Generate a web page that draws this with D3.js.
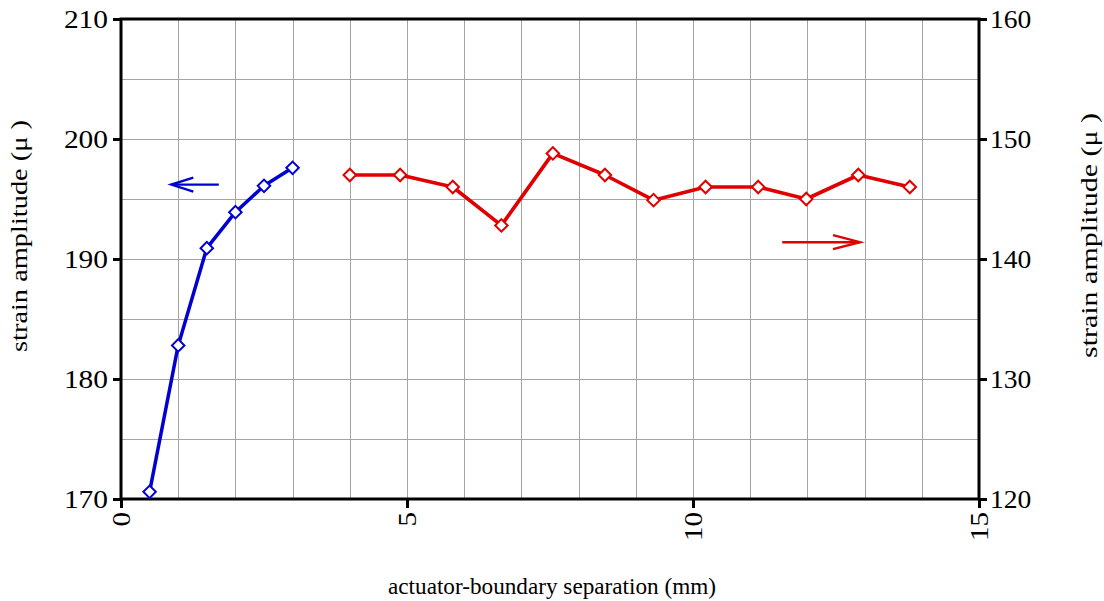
<!DOCTYPE html>
<html>
<head>
<meta charset="utf-8">
<script src="https://cdn.jsdelivr.net/npm/d3@7"></script>
<style>
  body { margin: 0; background: #fff; }
</style>
</head>
<body>
<svg id="chart" width="1104" height="601"></svg>
<script>
// Near-boundary run (left axis) and far run (right axis)
const nearSep = [0.5, 1.0, 1.5, 2.0, 2.5, 3.0];
const nearStrain = [170.6, 182.8, 190.9, 193.9, 196.1, 197.6];
const farSep = [4.0, 4.88, 5.8, 6.65, 7.55, 8.46, 9.31, 10.22, 11.14, 11.98, 12.89, 13.79];
const farStrain = [147, 147, 146, 142.8, 148.8, 147, 144.9, 146, 146, 145, 147, 146];

const xTicks = [0, 5, 10, 15];
const leftTicks = [170, 180, 190, 200, 210];
const rightTicks = [120, 130, 140, 150, 160];
const xGrid = d3.range(1, 15);
const yGrid = [175, 180, 185, 190, 195, 200, 205];

// Arrows that point each series to its axis
const leftArrow = { from: 1.71, to: 0.88, value: 196.2 };
const rightArrow = { from: 11.56, to: 12.92, value: 141.4 };

const FONT = '"Liberation Serif", "Times New Roman", serif';

const svg = d3.select("#chart");
const m = { left: 121, right: 979, top: 19, bottom: 499 };

const x = d3.scaleLinear().domain([0, 15]).range([m.left, m.right]);
const yL = d3.scaleLinear().domain([170, 210]).range([m.bottom, m.top]);
const yR = d3.scaleLinear().domain([120, 160]).range([m.bottom, m.top]);

// grid
const grid = svg.append("g").attr("stroke", "#a4a4a4").attr("stroke-width", 1);
grid.selectAll(".vg").data(xGrid).join("line")
  .attr("x1", d => Math.round(x(d)) + 0.5).attr("x2", d => Math.round(x(d)) + 0.5)
  .attr("y1", m.top).attr("y2", m.bottom);
grid.selectAll(".hg").data(yGrid).join("line")
  .attr("y1", d => Math.round(yL(d)) + 0.5).attr("y2", d => Math.round(yL(d)) + 0.5)
  .attr("x1", m.left).attr("x2", m.right);

// frame
svg.append("rect")
  .attr("x", m.left).attr("y", m.top)
  .attr("width", m.right - m.left).attr("height", m.bottom - m.top)
  .attr("fill", "none").attr("stroke", "#000").attr("stroke-width", 3);

// axes: wide serif digits, stretched to a fixed width per character
function styleAxis(g, perChar) {
  g.select(".domain").remove();
  g.selectAll(".tick line").attr("stroke", "#000").attr("stroke-width", 3);
  g.selectAll(".tick text")
    .style("font-family", FONT).style("font-size", "25px").attr("fill", "#000")
    .attr("lengthAdjust", "spacingAndGlyphs")
    .attr("textLength", function () { return this.textContent.length * perChar; });
}

svg.append("g").attr("transform", `translate(${m.left},0)`)
  .call(d3.axisLeft(yL).tickValues(leftTicks).tickSize(8).tickPadding(5))
  .call(styleAxis, 14.7);

svg.append("g").attr("transform", `translate(${m.right},0)`)
  .call(d3.axisRight(yR).tickValues(rightTicks).tickSize(8).tickPadding(3))
  .call(styleAxis, 13.8);

const xa = svg.append("g").attr("transform", `translate(0,${m.bottom})`)
  .call(d3.axisBottom(x).tickValues(xTicks).tickSize(9).tickPadding(4))
  .call(styleAxis, 14.5);
xa.selectAll(".tick text")
  .attr("transform", "rotate(-90)")
  .attr("text-anchor", "end")
  .attr("dy", "0.35em")
  .attr("x", -13).attr("y", 0);

// axis titles
function title(tx, ty, rot, len, size, label) {
  svg.append("text")
    .attr("transform", `translate(${tx},${ty}) rotate(${rot})`)
    .attr("text-anchor", "start")
    .style("font-family", FONT).style("font-size", size + "px")
    .attr("lengthAdjust", "spacingAndGlyphs").attr("textLength", len)
    .attr("fill", "#000")
    .text(label);
}
title(27, 352, -90, 232, 23, "strain amplitude (μ )");
title(1097, 358, -90, 245, 23, "strain amplitude (μ )");
title(388, 594, 0, 328, 23, "actuator-boundary separation (mm)");

// series
function drawSeries(xs, ys, yScale, color, width) {
  const pts = xs.map((d, i) => [d, ys[i]]);
  svg.append("path")
    .datum(pts)
    .attr("fill", "none").attr("stroke", color).attr("stroke-width", width)
    .attr("stroke-linejoin", "round")
    .attr("d", d3.line().x(d => x(d[0])).y(d => yScale(d[1])));
  const sym = d3.symbol().type(d3.symbolSquare).size(78);
  svg.append("g").selectAll("path").data(pts).join("path")
    .attr("transform", d => `translate(${x(d[0])},${yScale(d[1])}) rotate(45)`)
    .attr("d", sym)
    .attr("fill", "#fff").attr("stroke", color).attr("stroke-width", 2);
}
drawSeries(nearSep, nearStrain, yL, "#0000d0", 3.5);
drawSeries(farSep, farStrain, yR, "#e00000", 3.6);

// arrows
function drawArrow(a, yScale, color, back) {
  const y0 = yScale(a.value);
  const x0 = x(a.from), x1 = x(a.to);
  const dir = Math.sign(x1 - x0);
  const g = svg.append("g").attr("stroke", color).attr("stroke-width", 2.4).attr("fill", "none");
  g.append("line").attr("x1", x0).attr("x2", x1).attr("y1", y0).attr("y2", y0);
  g.append("path").attr("d",
    `M${x1 - dir * back},${y0 - 7}L${x1},${y0}L${x1 - dir * back},${y0 + 7}`);
}
drawArrow(leftArrow, yL, "#0000d0", 22);
drawArrow(rightArrow, yR, "#e00000", 27);
</script>
</body>
</html>
